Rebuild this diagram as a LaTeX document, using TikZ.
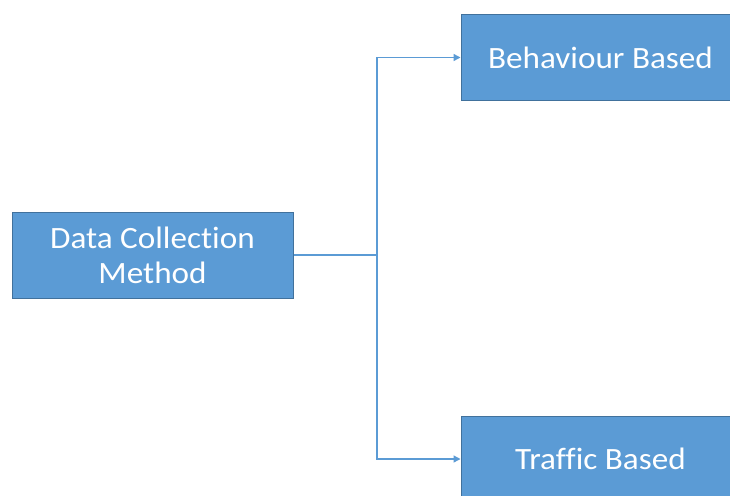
\documentclass[tikz,border=0pt]{standalone}
\usepackage{fontspec}
\setmainfont{Carlito}[FakeStretch=1.07, Ligatures=NoCommon]
\usetikzlibrary{arrows.meta}
\definecolor{boxfill}{HTML}{5B9BD5}
\definecolor{boxline}{HTML}{41719C}
\definecolor{linkcol}{HTML}{5B9BD5}
\begin{document}
\begin{tikzpicture}[x=1pt,y=-1pt,
  blockbox/.style={draw=boxline, line width=1pt, fill=boxfill, text=white,
    align=center, inner sep=0pt, font=\fontsize{31}{35}\selectfont},
  link/.style={draw=linkcol, line width=1.4pt},
  linkarrow/.style={link, -{Triangle[length=7pt,width=7pt]}}]
\useasboundingbox (0,0) rectangle (730,495);
\clip (0,0) rectangle (730,495);
\fill[white] (0,0) rectangle (730,495);
\node[blockbox, minimum width=281pt, minimum height=86pt] (dcm) at (152.5,255) {Data Collection\\Method};
\node[blockbox, minimum width=279pt, minimum height=85pt] (beh) at (600.5,57.5) {Behaviour Based};
\node[blockbox, minimum width=279pt, minimum height=85pt] (tra) at (600.5,459) {Traffic Based};
\coordinate (split) at (377,255);
\draw[link] (dcm.east) -- (split);
\draw[linkarrow] (split) |- (beh.west);
\draw[linkarrow] (split) |- (tra.west);
\end{tikzpicture}
\end{document}
